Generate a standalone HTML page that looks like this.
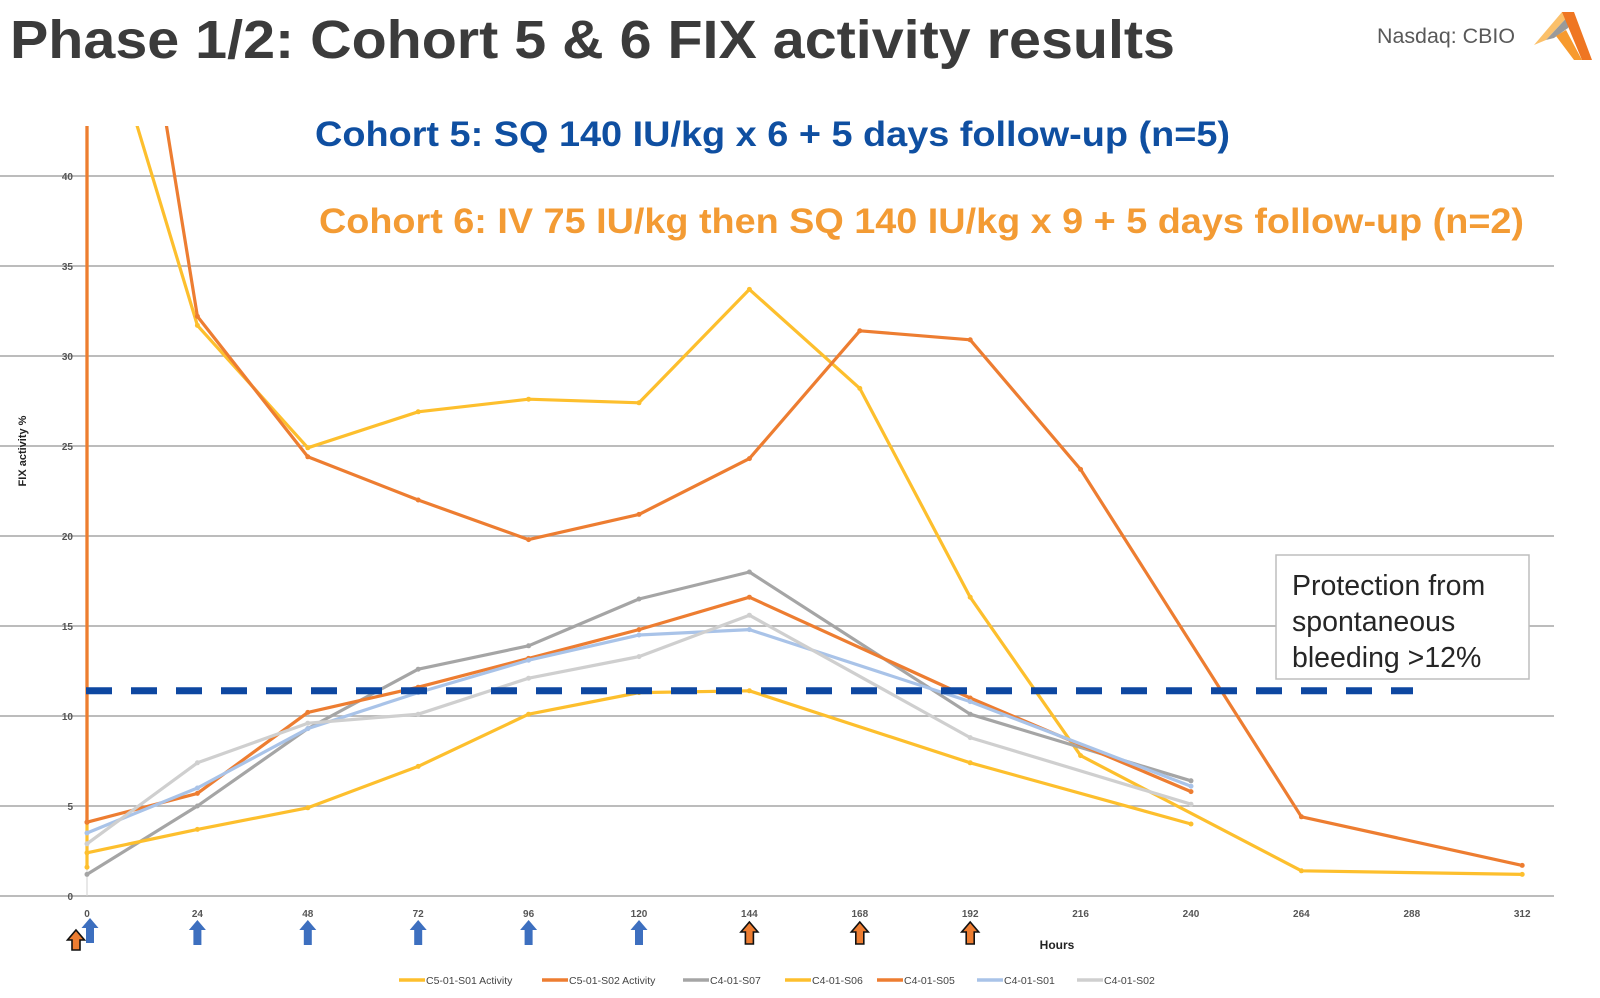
<!DOCTYPE html>
<html><head><meta charset="utf-8">
<style>
html,body{margin:0;padding:0;background:#fff;}
body{width:1600px;height:998px;overflow:hidden;font-family:"Liberation Sans",sans-serif;}
svg{display:block;}
</style></head>
<body>
<svg id="chart" width="1600" height="998" viewBox="0 0 1600 998" xmlns="http://www.w3.org/2000/svg">
<defs>
<clipPath id="plotclip"><rect x="0" y="126" width="1600" height="800"/></clipPath>
</defs>
<text x="10" y="58" font-size="54" font-weight="bold" fill="#3b3b3b" textLength="1165" lengthAdjust="spacingAndGlyphs">Phase 1/2: Cohort 5 &amp; 6 FIX activity results</text>
<text x="1377" y="43" font-size="21" fill="#595959" textLength="138" lengthAdjust="spacingAndGlyphs">Nasdaq: CBIO</text>
<g>
<polygon points="1534,45 1562,12 1572,12 1546,40" fill="#fbc06a"/>
<polygon points="1546,40 1572,12 1568,28 1554,38" fill="#9a9a9a"/>
<polygon points="1562,12 1574,12 1592,60 1582,60" fill="#ef7622"/>
<polygon points="1556,36 1566,30 1582,60 1574,60" fill="#f79a2e"/>
</g>
<g id="grid"></g>
<g id="yticks"></g>
<g id="xticks"></g>
<g id="series" clip-path="url(#plotclip)"></g>
<text x="315" y="146" font-size="35" font-weight="bold" fill="#0f4fa1" textLength="915" lengthAdjust="spacingAndGlyphs">Cohort 5: SQ 140 IU/kg x 6 + 5 days follow-up (n=5)</text>
<text x="319" y="233" font-size="35" font-weight="bold" fill="#f39b34" textLength="1205" lengthAdjust="spacingAndGlyphs">Cohort 6: IV 75 IU/kg then SQ 140 IU/kg x 9 + 5 days follow-up (n=2)</text>
<line id="threshold" x1="86" x2="1413" stroke="#0d47a1" stroke-width="7" stroke-dasharray="26,19"/>
<g>
<rect x="1276" y="555" width="253" height="124" fill="#fff" stroke="#bdbdbd" stroke-width="1.5"/>
<text x="1292" y="595" font-size="28.5" fill="#262626">Protection from</text>
<text x="1292" y="631" font-size="28.5" fill="#262626">spontaneous</text>
<text x="1292" y="667" font-size="28.5" fill="#262626">bleeding  &gt;12%</text>
</g>
<text transform="translate(26,451) rotate(-90)" text-anchor="middle" font-size="11" font-weight="bold" fill="#222">FIX activity %</text>
<text x="1057" y="949" text-anchor="middle" font-size="12" font-weight="bold" fill="#222">Hours</text>
<g id="arrows"></g>
<g id="legend"></g>
</svg>
<script>
const yTicks=[0,5,10,15,20,25,30,35,40];
const xTicks=[0,24,48,72,96,120,144,168,192,216,240,264,288,312];
const threshold=11.4;
const sqDoseHours=[0,24,48,72,96,120];
const ivDoseHours=[144,168,192];
const seriesNames=["C5-01-S01 Activity","C5-01-S02 Activity","C4-01-S07","C4-01-S06","C4-01-S05","C4-01-S01","C4-01-S02"];
const s1Hours=[0,0,24,48,72,96,120,144,168,192,216,264,312];
const s1Vals=[1.6,52,31.7,24.9,26.9,27.6,27.4,33.7,28.2,16.6,7.8,1.4,1.2];
const s2Hours=[0,0,24,48,72,96,120,144,168,192,216,264,312];
const s2Vals=[4.1,70,32.2,24.4,22.0,19.8,21.2,24.3,31.4,30.9,23.7,4.4,1.7];
const c4Hours=[0,24,48,72,96,120,144,192,240];
const s07Vals=[1.2,5.0,9.3,12.6,13.9,16.5,18.0,10.1,6.4];
const s06Vals=[2.4,3.7,4.9,7.2,10.1,11.3,11.4,7.4,4.0];
const s05Vals=[4.1,5.7,10.2,11.6,13.2,14.8,16.6,11.0,5.8];
const s01Vals=[3.5,6.0,9.3,11.3,13.1,14.5,14.8,10.8,6.1];
const s02Vals=[2.9,7.4,9.6,10.1,12.1,13.3,15.6,8.8,5.1];

const NS="http://www.w3.org/2000/svg";
const X=h=>87+h*4.6;
const Y=v=>896-v*18;
function mk(tag,attrs,parent){const e=document.createElementNS(NS,tag);for(const k in attrs)e.setAttribute(k,attrs[k]);parent.appendChild(e);return e;}
const grid=document.getElementById('grid'),yt=document.getElementById('yticks'),xt=document.getElementById('xticks');
yTicks.forEach(v=>{
  const l=mk('line',{x1:0,x2:1554,y1:Y(v),y2:Y(v),stroke:'#a6a6a6','stroke-width':1.6},grid);
  
  
  const t=mk('text',{x:73,y:Y(v)+4,'text-anchor':'end','font-size':10,'font-weight':'bold',fill:'#555'},yt);
  t.textContent=v;
  
  
});
mk('line',{x1:X(0),x2:X(0),y1:126,y2:896,stroke:'#d0d0d0','stroke-width':1},grid);
xTicks.forEach(h=>{
  const t=mk('text',{x:X(h),y:917,'text-anchor':'middle','font-size':10,'font-weight':'bold',fill:'#555'},xt);
  t.textContent=h;
  
  
});
const th=document.getElementById('threshold');th.setAttribute('y1',Y(threshold));th.setAttribute('y2',Y(threshold));
const colors=["#fdbf2d","#ed7d31","#a5a5a5","#fdbf2d","#ed7d31","#a9c3e8","#cfcfcf"];
const hs=[s1Hours,s2Hours,c4Hours,c4Hours,c4Hours,c4Hours,c4Hours];
const vs=[s1Vals,s2Vals,s07Vals,s06Vals,s05Vals,s01Vals,s02Vals];
const sg=document.getElementById('series');
vs.forEach((vals,i)=>{
  const pts=vals.map((v,j)=>X(hs[i][j]).toFixed(1)+','+Y(v).toFixed(1)).join(' ');
  const p=mk('polyline',{points:pts,fill:'none',stroke:colors[i],'stroke-width':3.2,'stroke-linejoin':'round'},sg);
  
  
  vals.forEach((v,j)=>{
    const c=mk('circle',{cx:X(hs[i][j]),cy:Y(v),r:2.5,fill:colors[i]},sg);
    
    
  });
});
const ag=document.getElementById('arrows');
function arrow(cx,top,h,fill,stroke){
  const w=8,hw=8.5,hh=10;
  const d=`M${cx},${top} L${cx+hw},${top+hh} L${cx+w/2},${top+hh} L${cx+w/2},${top+h} L${cx-w/2},${top+h} L${cx-w/2},${top+hh} L${cx-hw},${top+hh} Z`;
  return mk('path',{d:d,fill:fill,stroke:stroke,'stroke-width':stroke==='none'?0:1.6},ag);
}
sqDoseHours.forEach((h,i)=>{
  const a=arrow(i===0?X(h)+3:X(h),i===0?918:920,25,'#3d6fbf','none');
  
  
});
ivDoseHours.forEach(h=>{
  const a=arrow(X(h),922,22,'#ed7d31','#111');
  
  
});
const a0=arrow(76,930,20,'#ed7d31','#111');


const lg=document.getElementById('legend');
const lx=[399,542,683,785,877,977,1077];
seriesNames.forEach((n,i)=>{
  const l=mk('line',{x1:lx[i],x2:lx[i]+26,y1:980,y2:980,stroke:colors[i],'stroke-width':3.5},lg);
  
  
  const t=mk('text',{x:lx[i]+27,y:984,'font-size':10.5,fill:'#444'},lg);
  t.textContent=n;
  
  
});
</script>
</body></html>
